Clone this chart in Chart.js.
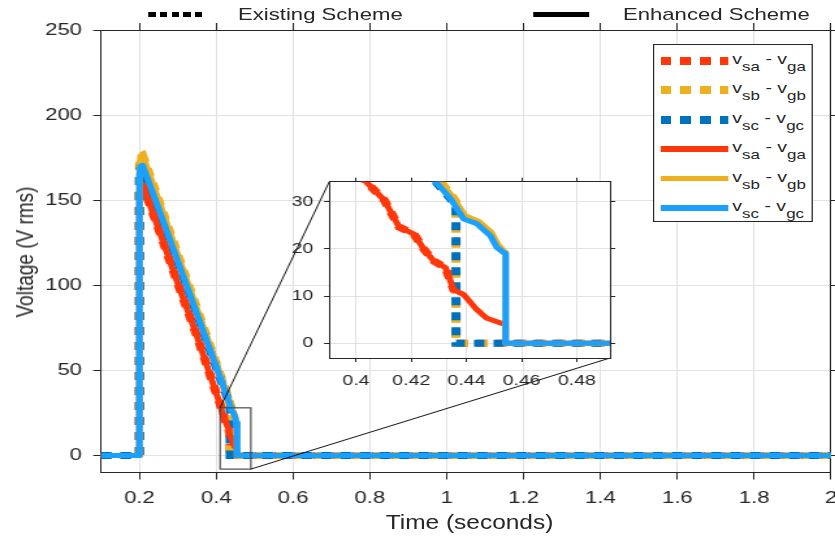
<!DOCTYPE html>
<html>
<head>
<meta charset="utf-8">
<script src="https://cdn.jsdelivr.net/npm/chart.js@4.4.1/dist/chart.umd.min.js"></script>
<style>
  html, body { margin: 0; padding: 0; background: #fff; }
  body { width: 835px; height: 538px; overflow: hidden; position: relative; }
  /* the reference is stretched sideways, so the whole figure is drawn narrow and widened */
  #stage { position: absolute; left: 0; top: 0; width: 642px; height: 538px;
           transform-origin: 0 0; transform: scaleX(1.3006);
           font-family: "Liberation Sans", Arial, sans-serif; color: #262626; }
  #main { position: absolute; left: 0; top: 0; }
  #inset { position: absolute; left: 190px; top: 160px; }
  .ttl { position: absolute; white-space: nowrap; }
  #ylab { left: 18.5px; top: 252px; font-size: 19px; line-height: 19px;
          transform: translate(-50%, -50%) rotate(-90deg); }
  #xlab { left: 360.6px; top: 512.2px; font-size: 20px; line-height: 20px;
          transform: translateX(-50%) scaleX(0.94); }
  .top-txt { position: absolute; top: 6.2px; font-size: 17px; line-height: 17px; white-space: nowrap; }
  .top-mark { position: absolute; height: 5px; }
  #legend { position: absolute; left: 502.1px; top: 44px; width: 121px; height: 176px;
            border: 1px solid #262626; background: #fff; }
  .sample { position: absolute; left: 5.4px; width: 51.5px; }
  .lbl { position: absolute; left: 60px; font-size: 15px; line-height: 15px; white-space: nowrap; }
  .lbl .sb { position: relative; top: 7px; font-size: 13px; }
</style>
</head>
<body>
<div id="stage">
  <canvas id="main" width="642" height="538"></canvas>
  <canvas id="inset" width="300" height="240"></canvas>
  <div class="ttl" id="ylab">Voltage (V rms)</div>
  <div class="ttl" id="xlab">Time (seconds)</div>
  <div class="top-mark" style="left:113.8px; top:12px; width:43.8px;
       background: repeating-linear-gradient(to right, #000 0 5.6px, transparent 5.6px 9px);"></div>
  <div class="top-txt" style="left:183px;">Existing Scheme</div>
  <div class="top-mark" style="left:409.8px; top:11.5px; width:43px; height:5.5px; background:#000;"></div>
  <div class="top-txt" style="left:479px;">Enhanced Scheme</div>
  <div id="legend"></div>
</div>
<script>
// time axis ticks and labels
const xTicks = [0.2, 0.4, 0.6, 0.8, 1, 1.2, 1.4, 1.6, 1.8, 2];
const yTicks = [0, 50, 100, 150, 200, 250];
const insetXTicks = [0.4, 0.42, 0.44, 0.46, 0.48];
const insetYTicks = [0, 10, 20, 30];

// existing scheme (rms voltage across each phase switch)
const tExA = [0.1, 0.2, 0.2, 0.204, 0.209, 0.215, 0.25, 0.3, 0.35, 0.3903, 0.4036, 0.4102, 0.4156, 0.421, 0.4246, 0.4282, 0.4324, 0.4354, 0.4362, 0.4362, 2];
const vExA = [0, 0, 154, 159, 159, 155, 133, 101, 70, 43, 34.2, 30.3, 24.6, 23.1, 19.9, 17.4, 16, 11.3, 11, 0, 0];
const tExB = [0.1, 0.2, 0.2, 0.203, 0.208, 0.214, 0.25, 0.3, 0.35, 0.4, 0.4295, 0.435, 0.4362, 0.4362, 2];
const vExB = [0, 0, 170, 176, 176.5, 173, 150, 118, 86, 54, 35, 31, 30, 0, 0];
const tExC = [0.1, 0.2, 0.2, 0.203, 0.208, 0.214, 0.25, 0.3, 0.35, 0.4, 0.4288, 0.4342, 0.4362, 0.4362, 2];
const vExC = [0, 0, 165, 170, 170.5, 167, 145, 114, 83, 52, 34.2, 30.6, 29, 0, 0];

// enhanced scheme
const tEnA = [0.1, 0.2, 0.2, 0.204, 0.209, 0.215, 0.25, 0.3, 0.35, 0.3903, 0.4036, 0.4102, 0.4156, 0.421, 0.4246, 0.4282, 0.4324, 0.4354, 0.439, 0.4438, 0.4474, 0.4529, 0.4541, 0.4541, 2];
const vEnA = [0, 0, 154, 159, 159, 155, 133, 101, 70, 43, 34.2, 30.3, 24.6, 23.1, 19.9, 17.4, 16, 11.3, 10.3, 7.1, 5.3, 4.2, 4.2, 0, 0];
const tEnB = [0.1, 0.2, 0.2, 0.203, 0.208, 0.214, 0.25, 0.3, 0.35, 0.4, 0.4295, 0.435, 0.4395, 0.4445, 0.449, 0.4515, 0.4538, 0.4542, 0.4542, 2];
const vEnB = [0, 0, 170, 176, 176.5, 173, 150, 118, 86, 54, 35, 31, 27, 25.8, 23.5, 20.8, 19.4, 19.2, 0, 0];
const tEnC = [0.1, 0.2, 0.2, 0.203, 0.208, 0.214, 0.25, 0.3, 0.35, 0.4, 0.4288, 0.4342, 0.439, 0.4438, 0.4486, 0.451, 0.4535, 0.4542, 0.4542, 2];
const vEnC = [0, 0, 165, 170, 170.5, 167, 145, 114, 83, 52, 34.2, 30.6, 26.3, 25.3, 22.8, 20.3, 19.2, 19, 0, 0];

const phases = ['a', 'b', 'c'];
const exColors = ['#FF370A', '#EDB120', '#0072BD'];
const enColors = ['#FF370A', '#EDB120', '#1AA0FF'];

const zoomBox = { x0: 0.41, x1: 0.49, y0: -8, y1: 28 };

Chart.defaults.font.family = '"Liberation Sans", Arial, sans-serif';
Chart.defaults.color = '#262626';

function pts(t, v) {
  return t.map((x, i) => ({ x: x, y: v[i] }));
}

function makeSets() {
  const ex = [[tExA, vExA], [tExB, vExB], [tExC, vExC]];
  const en = [[tEnA, vEnA], [tEnB, vEnB], [tEnC, vEnC]];
  const sets = [];
  ex.forEach((s, i) => sets.push({
    data: pts(s[0], s[1]), borderColor: exColors[i], borderWidth: 7,
    borderDash: [8, 7], borderCapStyle: 'butt', pointRadius: 0, clip: 0, order: 5 - i
  }));
  en.forEach((s, i) => sets.push({
    data: pts(s[0], s[1]), borderColor: enColors[i], borderWidth: 5,
    pointRadius: 0, clip: 0, order: 2 - i, borderJoinStyle: 'round'
  }));
  return sets;
}

const gridCol = '#e2e2e2';
const axisCol = '#262626';
const fmt = v => String(+v.toFixed(3));

const fillArea = {
  id: 'fillArea',
  beforeDraw(chart) {
    const a = chart.chartArea, ctx = chart.ctx;
    ctx.save();
    ctx.fillStyle = '#fff';
    ctx.fillRect(a.left, a.top, a.right - a.left, a.bottom - a.top);
    ctx.restore();
  }
};

// inset (zoomed view)
const insetChart = new Chart(document.getElementById('inset'), {
  type: 'line',
  data: { datasets: makeSets() },
  options: {
    responsive: false, animation: false, devicePixelRatio: 1,
    layout: { padding: { top: 21.7, right: 21, left: 0, bottom: 0 } },
    plugins: { legend: { display: false }, tooltip: { enabled: false } },
    scales: {
      x: {
        type: 'linear', position: 'bottom', min: 0.3903, max: 0.492,
        afterBuildTicks: s => { s.ticks = insetXTicks.map(v => ({ value: v })); },
        afterFit: s => { s.height = 42; s.paddingLeft = 0; s.paddingRight = 0; },
        ticks: { font: { size: 15 }, padding: 9.5, maxRotation: 0, autoSkip: false, callback: fmt },
        grid: { color: gridCol, tickColor: axisCol, tickLength: 4 },
        border: { color: axisCol }
      },
      y: {
        type: 'linear', position: 'left', min: -3.1, max: 34.2,
        afterBuildTicks: s => { s.ticks = insetYTicks.map(v => ({ value: v })); },
        afterFit: s => { s.width = 63.2; s.paddingTop = 0; s.paddingBottom = 0; },
        ticks: { font: { size: 15 }, padding: 8.3, callback: fmt },
        grid: { color: gridCol, tickColor: axisCol, tickLength: 4 },
        border: { color: axisCol }
      },
      x2: {
        type: 'linear', position: 'top', min: 0.3903, max: 0.492,
        afterBuildTicks: s => { s.ticks = insetXTicks.map(v => ({ value: v })); },
        afterFit: s => { s.height = 0; s.paddingLeft = 0; s.paddingRight = 0; },
        ticks: { display: false },
        grid: { drawOnChartArea: false, tickColor: axisCol, tickLength: 4 },
        border: { color: axisCol }
      },
      y2: {
        type: 'linear', position: 'right', min: -3.1, max: 34.2,
        afterBuildTicks: s => { s.ticks = insetYTicks.map(v => ({ value: v })); },
        afterFit: s => { s.width = 0; s.paddingTop = 0; s.paddingBottom = 0; },
        ticks: { display: false },
        grid: { drawOnChartArea: false, tickColor: axisCol, tickLength: 4 },
        border: { color: axisCol }
      }
    }
  },
  plugins: [fillArea]
});

// zoom box and the two lines that lead to the inset
const zoomLines = {
  id: 'zoomLines',
  afterDatasetsDraw(chart) {
    const sx = chart.scales.x, sy = chart.scales.y, ctx = chart.ctx;
    const l = sx.getPixelForValue(zoomBox.x0), r = sx.getPixelForValue(zoomBox.x1);
    const t = sy.getPixelForValue(zoomBox.y1), b = sy.getPixelForValue(zoomBox.y0);
    const cv = document.getElementById('inset');
    const ia = insetChart.chartArea;
    const ox = cv.offsetLeft, oy = cv.offsetTop;
    ctx.save();
    ctx.strokeStyle = '#4d4d4d';
    ctx.lineWidth = 1.2;
    ctx.strokeRect(l, t, r - l, b - t);
    ctx.strokeStyle = '#111';
    ctx.lineWidth = 1;
    ctx.beginPath();
    ctx.moveTo(l, t); ctx.lineTo(ox + ia.left, oy + ia.top);
    ctx.moveTo(r, b); ctx.lineTo(ox + ia.right, oy + ia.bottom);
    ctx.stroke();
    ctx.restore();
  }
};

const mainChart = new Chart(document.getElementById('main'), {
  type: 'line',
  data: { datasets: makeSets() },
  options: {
    responsive: false, animation: false, devicePixelRatio: 1,
    layout: { padding: { top: 30, right: 3.1, left: 0, bottom: 0 } },
    plugins: { legend: { display: false }, tooltip: { enabled: false } },
    scales: {
      x: {
        type: 'linear', position: 'bottom', min: 0.1, max: 2,
        afterBuildTicks: s => { s.ticks = xTicks.map(v => ({ value: v })); },
        afterFit: s => { s.height = 65.5; s.paddingLeft = 0; s.paddingRight = 0; },
        ticks: { font: { size: 17 }, padding: 9, maxRotation: 0, autoSkip: false, callback: fmt },
        grid: { color: gridCol, tickColor: axisCol, tickLength: 7 },
        border: { color: axisCol }
      },
      y: {
        type: 'linear', position: 'left', min: -10, max: 250,
        afterBuildTicks: s => { s.ticks = yTicks.map(v => ({ value: v })); },
        afterFit: s => { s.width = 77.66; s.paddingTop = 0; s.paddingBottom = 0; },
        ticks: { font: { size: 17 }, padding: 8.6, callback: fmt },
        grid: { color: gridCol, tickColor: axisCol, tickLength: 6 },
        border: { color: axisCol }
      },
      x2: {
        type: 'linear', position: 'top', min: 0.1, max: 2,
        afterBuildTicks: s => { s.ticks = xTicks.map(v => ({ value: v })); },
        afterFit: s => { s.height = 0; s.paddingLeft = 0; s.paddingRight = 0; },
        ticks: { display: false },
        grid: { drawOnChartArea: false, tickColor: axisCol, tickLength: 7 },
        border: { color: axisCol }
      },
      y2: {
        type: 'linear', position: 'right', min: -10, max: 250,
        afterBuildTicks: s => { s.ticks = yTicks.map(v => ({ value: v })); },
        afterFit: s => { s.width = 0; s.paddingTop = 0; s.paddingBottom = 0; },
        ticks: { display: false },
        grid: { drawOnChartArea: false, tickColor: axisCol, tickLength: 6 },
        border: { color: axisCol }
      }
    }
  },
  plugins: [zoomLines]
});

// legend box: dashed = existing, solid = enhanced
const legend = document.getElementById('legend');
const rows = [];
phases.forEach((p, i) => rows.push({ p: p, color: exColors[i], dashed: true }));
phases.forEach((p, i) => rows.push({ p: p, color: enColors[i], dashed: false }));
rows.forEach((r, i) => {
  const cy = 16 + i * 29.4;
  const s = document.createElement('div');
  s.className = 'sample';
  if (r.dashed) {
    s.style.top = (cy - 4) + 'px';
    s.style.height = '8px';
    s.style.background = 'repeating-linear-gradient(to right, ' + r.color + ' 0 8.2px, transparent 8.2px 15.1px)';
  } else {
    s.style.top = (cy - 2.75) + 'px';
    s.style.height = '5.5px';
    s.style.background = r.color;
  }
  legend.appendChild(s);
  const l = document.createElement('div');
  l.className = 'lbl';
  l.style.top = (cy - 10) + 'px';
  l.innerHTML = 'v<span class="sb">s' + r.p + '</span> - v<span class="sb">g' + r.p + '</span>';
  legend.appendChild(l);
});
</script>
</body>
</html>
